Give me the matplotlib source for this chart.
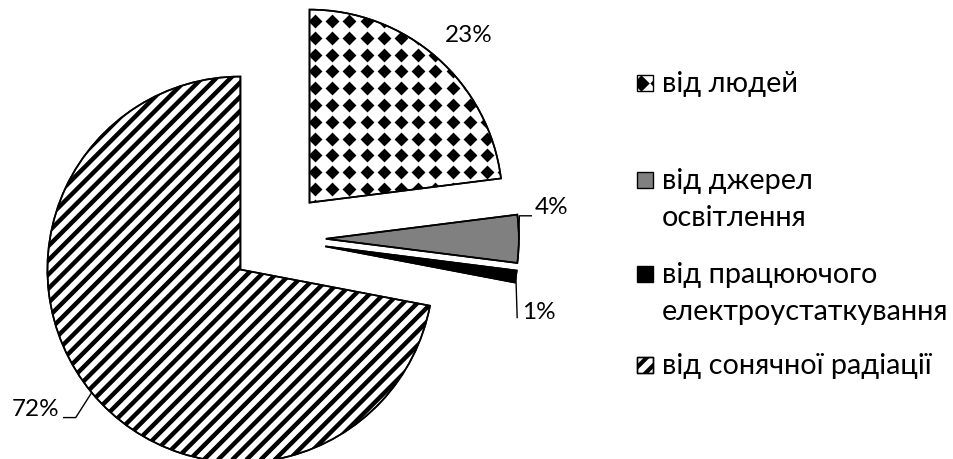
import numpy as np
import matplotlib
matplotlib.use("Agg")
import matplotlib.pyplot as plt
from matplotlib.patches import Rectangle, Wedge
from matplotlib.collections import LineCollection

# Sources of heat gain in the room, %
legend_labels = ["від людей",
                 "від джерел\nосвітлення",
                 "від працюючого\nелектроустаткування",
                 "від сонячної радіації"]
shares = [23, 4, 1, 72]
pct_labels = [f"{v}%" for v in shares]

W, H, DPI = 954, 459, 100
R_PX = 193.0            # pie radius in pixels
CX, CY = 277.6, 238.8   # pie centre in pixels (from top-left)

plt.rcParams['font.family'] = ['Lato', 'DejaVu Sans']

fig = plt.figure(figsize=(W / DPI, H / DPI), dpi=DPI)
ax = fig.add_axes([0, 0, 1, 1])


def px(x, y):
    """Pixel position (from top-left) -> data coordinates."""
    return (np.asarray(x) - CX) / R_PX, (CY - np.asarray(y)) / R_PX


EDGE_LW = 1.2
wedges, _ = ax.pie(shares, startangle=90, counterclock=False,
                   explode=[0.25] * len(shares), radius=1,
                   colors=['white', '#808080', 'black', 'white'],
                   wedgeprops=dict(edgecolor='black', linewidth=EDGE_LW))

ax.set_xlim(-CX / R_PX, (W - CX) / R_PX)
ax.set_ylim(-(H - CY) / R_PX, CY / R_PX)
ax.set_aspect('equal')
ax.axis('off')

# --- pattern fills -------------------------------------------------------
def diamond_fill(clip, x0, x1, y0, y1, step_x=17.2, step_y=16.8, s=50, z=2.5):
    gx, gy = np.meshgrid(np.arange(x0, x1, step_x), np.arange(y0, y1, step_y))
    dx, dy = px(gx.ravel(), gy.ravel())
    sc = ax.scatter(dx, dy, marker='D', s=s, color='black', linewidths=0, zorder=z)
    sc.set_clip_path(clip)
    return sc


def stripe_fill(clip, xlo, xhi, spacing_px=14.2, lw=3.2, z=2.5):
    step = spacing_px / R_PX
    segs = []
    for c in np.arange(-4.0, 4.0, step):
        segs.append([(xlo, xlo + c), (xhi, xhi + c)])
    lc = LineCollection(segs, colors='black', linewidths=lw, zorder=z,
                        capstyle='butt')
    ax.add_collection(lc)
    lc.set_clip_path(clip)
    return lc


diamond_fill(wedges[0], 315, 520, 21, 215)
stripe_fill(wedges[3], -2.0, 2.0)

# redraw outlines on top of the patterns
for w in wedges:
    ax.add_patch(Wedge(w.center, w.r, w.theta1, w.theta2, fill=False,
                       edgecolor='black', linewidth=EDGE_LW, zorder=3))


# --- percentage labels with leader lines ---------------------------------
def arc_mid(w):
    a = np.deg2rad((w.theta1 + w.theta2) / 2)
    return w.center[0] + w.r * np.cos(a), w.center[1] + w.r * np.sin(a)


def leader(w, offsets_px):
    x, y = arc_mid(w)
    xs, ys = [x], [y]
    for ox, oy in offsets_px:
        x, y = x + ox / R_PX, y - oy / R_PX
        xs.append(x)
        ys.append(y)
    ax.plot(xs, ys, color='black', lw=1.0, zorder=3, solid_joinstyle='miter')


LBL_FS = 17.5
leader(wedges[1], [(0.5, -23), (12, 0)])
leader(wedges[2], [(1.3, 41)])
leader(wedges[3], [(-16, 25), (-12, 0)])

label_pos = [(468.5, 36), (552, 208), (539, 312.5), (36, 409)]
for txt, (x, y) in zip(pct_labels, label_pos):
    ax.text(*px(x, y), txt, ha='center', va='center', fontsize=LBL_FS,
            color='black', zorder=4)

# --- legend ----------------------------------------------------------------
LEG_FS = 20.8
LINE_STEP = 37          # px between wrapped legend lines
baselines = [92, 189, 283, 374]
box = 16
for i, (lab, base) in enumerate(zip(legend_labels, baselines)):
    x0, y0 = px(637, base - 1)
    fc = ['white', '#808080', 'black', 'white'][i]
    rect = Rectangle((x0, y0), box / R_PX, box / R_PX, facecolor=fc,
                     edgecolor='black', linewidth=1.0, zorder=3)
    ax.add_patch(rect)
    if i == 0:
        diamond_fill(rect, 641, 660, base - 9, base + 4, s=70, z=3.1)
    if i == 3:
        x_lo, _ = px(600, 0)
        x_hi, _ = px(700, 0)
        stripe_fill(rect, x_lo, x_hi, lw=3.0, z=3.1)
        ax.add_patch(Rectangle((x0, y0), box / R_PX, box / R_PX, fill=False,
                               edgecolor='black', linewidth=1.0, zorder=3.2))
    for k, line in enumerate(lab.split("\n")):
        ax.text(*px(662, base + k * LINE_STEP), line, ha='left', va='baseline',
                fontsize=LEG_FS, color='black', zorder=4)

fig.savefig("out.png", dpi=DPI)
